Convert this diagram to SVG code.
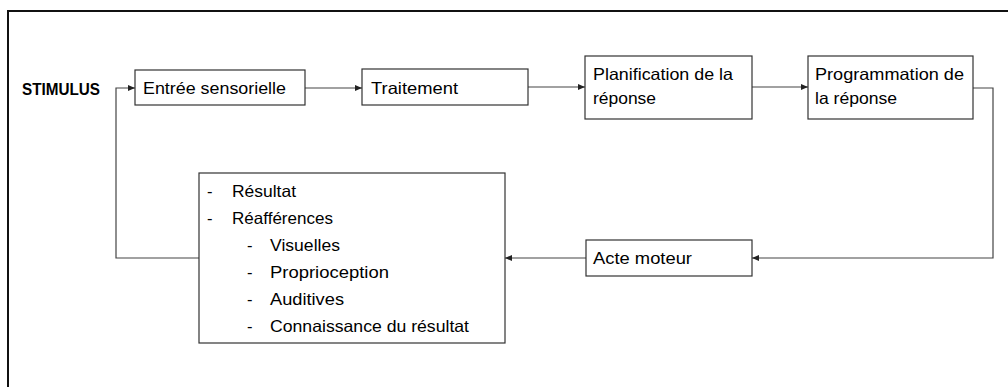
<svg xmlns="http://www.w3.org/2000/svg" width="1008" height="387" viewBox="0 0 1008 387">
<style>
.box{fill:#fff;stroke:#333;stroke-width:1.2}
.t{font-family:"Liberation Sans",Arial,sans-serif;font-size:16.5px;fill:#000}
.b{font-weight:bold}
.c{fill:none;stroke:#444;stroke-width:1.2}
</style>
<defs>
<marker id="ah" markerUnits="userSpaceOnUse" markerWidth="7" markerHeight="6" refX="7" refY="3" orient="auto">
<path d="M0,0 L7,3 L0,6 z" fill="#222"/>
</marker>
</defs>
<rect x="8" y="11" width="1020" height="400" fill="none" stroke="#111" stroke-width="2"/>
<g id="stimulus"><text class="t b" x="22" y="95" textLength="78" lengthAdjust="spacingAndGlyphs">STIMULUS</text></g>
<g id="connectors">
<path class="c" d="M199,258 H116 V88 H135" marker-end="url(#ah)"/>
<path class="c" d="M305,88 H362" marker-end="url(#ah)"/>
<path class="c" d="M528,87 H585" marker-end="url(#ah)"/>
<path class="c" d="M752,87 H808" marker-end="url(#ah)"/>
<path class="c" d="M973,88 H993 V258 H752" marker-end="url(#ah)"/>
<path class="c" d="M586,258 H505" marker-end="url(#ah)"/>
</g>
<g id="entree"><rect class="box" x="135" y="70" width="170" height="35"/><text class="t" x="143" y="94" textLength="143" lengthAdjust="spacingAndGlyphs">Entrée sensorielle</text></g>
<g id="traitement"><rect class="box" x="362" y="69" width="166" height="36"/><text class="t" x="371" y="94" textLength="87" lengthAdjust="spacingAndGlyphs">Traitement</text></g>
<g id="planification"><rect class="box" x="585" y="56" width="167" height="63"/><text class="t" x="593" y="80" textLength="140" lengthAdjust="spacingAndGlyphs">Planification de la</text><text class="t" x="593" y="104" textLength="63" lengthAdjust="spacingAndGlyphs">réponse</text></g>
<g id="programmation"><rect class="box" x="808" y="56" width="165" height="63"/><text class="t" x="815" y="80" textLength="149" lengthAdjust="spacingAndGlyphs">Programmation de</text><text class="t" x="815" y="104" textLength="82" lengthAdjust="spacingAndGlyphs">la réponse</text></g>
<g id="acte"><rect class="box" x="586" y="240" width="166" height="36"/><text class="t" x="593" y="264" textLength="99" lengthAdjust="spacingAndGlyphs">Acte moteur</text></g>
<g id="resultat"><rect class="box" x="199" y="173" width="306" height="170"/>
<text class="t" x="207" y="197">-</text><text class="t" x="232" y="197" textLength="64" lengthAdjust="spacingAndGlyphs">Résultat</text>
<text class="t" x="207" y="224">-</text><text class="t" x="232" y="224" textLength="101" lengthAdjust="spacingAndGlyphs">Réafférences</text>
<text class="t" x="247" y="251">-</text><text class="t" x="270" y="251" textLength="70" lengthAdjust="spacingAndGlyphs">Visuelles</text>
<text class="t" x="247" y="278">-</text><text class="t" x="270" y="278" textLength="119" lengthAdjust="spacingAndGlyphs">Proprioception</text>
<text class="t" x="247" y="305">-</text><text class="t" x="270" y="305" textLength="74" lengthAdjust="spacingAndGlyphs">Auditives</text>
<text class="t" x="247" y="332">-</text><text class="t" x="270" y="332" textLength="199" lengthAdjust="spacingAndGlyphs">Connaissance du résultat</text>
</g>
</svg>
